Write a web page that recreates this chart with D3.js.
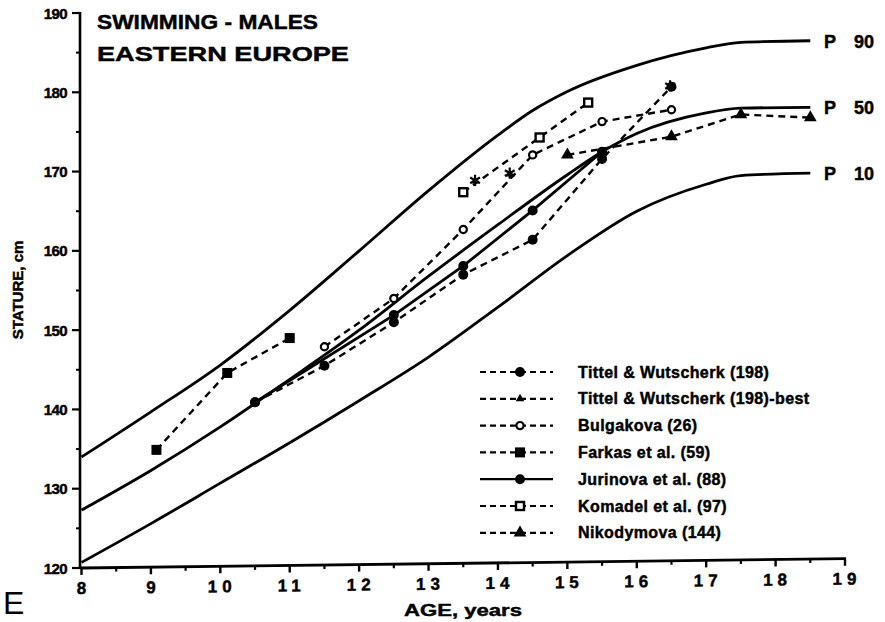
<!DOCTYPE html>
<html>
<head>
<meta charset="utf-8">
<script src="https://cdn.jsdelivr.net/npm/d3@7"></script>
<style>
  html, body { margin: 0; padding: 0; background: #fff; }
  svg { display: block; }
  text { font-family: "Liberation Sans", Arial, Helvetica, sans-serif; fill: #000; }
  text.heavy { font-weight: bold; stroke: #000; stroke-width: 0.45px; }
</style>
</head>
<body>
<svg id="chart" width="885" height="622"></svg>
<script>
// ---- axis ticks ----
const ageTicks = d3.range(8, 20);
const ageMinorTicks = d3.range(8.5, 19, 1);
const statureTicks = d3.range(120, 191, 10);
const statureMinorTicks = d3.range(125, 190, 10);

// ---- reference percentile curves [age, stature cm] ----
const p90 = [[8,134.0],[9,139.7],[10,145.6],[11,152.5],[12,160.0],[13,167.6],[14,174.6],[14.5,177.7],[15,180.1],[16,183.4],[17,185.6],[17.5,186.3],[18.5,186.5]];
const p50 = [[8,127.3],[9,132.3],[10,137.8],[11,143.8],[12,150.0],[13,156.8],[14,163.3],[15,169.6],[15.5,172.5],[16,174.8],[17,177.4],[17.5,178.0],[18.5,178.1]];
const p10 = [[8,120.7],[9,125.6],[10,130.7],[11,135.8],[12,141.1],[13,146.6],[14,152.9],[15,159.4],[16,165.0],[17,168.4],[17.5,169.5],[18.5,169.8]];
const percentileNames = ["90", "50", "10"];

// ---- swimmer samples [age, stature cm] ----
const tittel     = [[10.5,140.9],[11.5,145.5],[12.5,151.0],[13.5,157.0],[14.5,161.4],[15.5,171.6],[16.5,180.7]];
const tittelBest = [[13.67,168.9],[14.17,169.8],[16.48,180.8]];
const bulgakova  = [[11.5,147.9],[12.5,154.0],[13.5,162.7],[14.5,172.1],[15.5,176.3],[16.5,177.8]];
const farkas     = [[9.08,134.9],[10.1,144.6],[11.0,149.0]];
const jurinova   = [[10.5,140.9],[12.5,151.9],[13.5,158.1],[14.5,165.1],[15.5,172.5]];
const komadel    = [[13.5,167.4],[14.6,174.3],[15.3,178.7]];
const nikodymova = [[15.0,172.1],[16.5,174.4],[17.5,177.2],[18.5,176.8]];

const seriesNames = [
  "Tittel & Wutscherk (198)",
  "Tittel & Wutscherk (198)-best",
  "Bulgakova (26)",
  "Farkas et al. (59)",
  "Jurinova et al. (88)",
  "Komadel et al. (97)",
  "Nikodymova (144)"
];

const series = [
  { name: seriesNames[0], data: tittel,     marker: "dot",     dashed: true,  line: true },
  { name: seriesNames[1], data: tittelBest, marker: "best",    dashed: true,  line: false },
  { name: seriesNames[2], data: bulgakova,  marker: "ocircle", dashed: true,  line: true },
  { name: seriesNames[3], data: farkas,     marker: "square",  dashed: true,  line: true },
  { name: seriesNames[4], data: jurinova,   marker: "dot",     dashed: false, line: true },
  { name: seriesNames[5], data: komadel,    marker: "osquare", dashed: true,  line: true },
  { name: seriesNames[6], data: nikodymova, marker: "tri",     dashed: true,  line: true }
];

const svg = d3.select("#chart");

const x = d3.scaleLinear().domain([8, 19]).range([81.5, 845]);
const y = d3.scaleLinear().domain([120, 190]).range([568, 13]);

// ---- y axis ----
const yAxis = svg.append("g").attr("transform", "translate(80,0)");
yAxis.append("line")
  .attr("x1", 0).attr("x2", 0).attr("y1", y(190) - 1).attr("y2", y(120) + 1)
  .attr("stroke", "#000").attr("stroke-width", 2.6);
yAxis.selectAll(".maj").data(statureTicks).join("line")
  .attr("x1", -8).attr("x2", 0).attr("y1", d => y(d)).attr("y2", d => y(d))
  .attr("stroke", "#000").attr("stroke-width", 2.2);
yAxis.selectAll(".min").data(statureMinorTicks).join("line")
  .attr("x1", -4).attr("x2", 0).attr("y1", d => y(d)).attr("y2", d => y(d))
  .attr("stroke", "#000").attr("stroke-width", 2);
yAxis.selectAll("text").data(statureTicks).join("text")
  .attr("class", "heavy")
  .attr("x", -13).attr("y", d => y(d) + 5.5)
  .attr("text-anchor", "end")
  .attr("font-size", 15)
  .attr("letter-spacing", -0.6)
  .text(d => d);

// ---- x axis (slightly tilted baseline) ----
const xAxis = svg.append("g").attr("transform", "translate(0,569) skewY(-0.7)");
xAxis.append("line")
  .attr("x1", x(8) - 1).attr("x2", x(19) + 1).attr("y1", 0).attr("y2", 0)
  .attr("stroke", "#000").attr("stroke-width", 2.8);
xAxis.selectAll(".maj").data(ageTicks).join("line")
  .attr("x1", d => x(d)).attr("x2", d => x(d)).attr("y1", 0).attr("y2", 7)
  .attr("stroke", "#000").attr("stroke-width", 2.4);
xAxis.selectAll(".min").data(ageMinorTicks).join("line")
  .attr("x1", d => x(d)).attr("x2", d => x(d)).attr("y1", 0).attr("y2", 4)
  .attr("stroke", "#000").attr("stroke-width", 2.2);
xAxis.selectAll("text").data(ageTicks).join("text")
  .attr("class", "heavy")
  .attr("x", d => x(d) + (d >= 10 ? 2 : 0)).attr("y", 26)
  .attr("text-anchor", "middle")
  .attr("font-size", 17)
  .attr("letter-spacing", d => d >= 10 ? 5 : 0)
  .text(d => d);

svg.append("text")
  .attr("class", "heavy")
  .attr("x", 463).attr("y", 616)
  .attr("text-anchor", "middle")
  .attr("font-size", 17)
  .attr("textLength", 118).attr("lengthAdjust", "spacingAndGlyphs")
  .text("AGE,  years");

svg.append("text")
  .attr("class", "heavy")
  .attr("transform", "translate(23,290) rotate(-90)")
  .attr("text-anchor", "middle")
  .attr("font-size", 15)
  .text("STATURE,  cm");

// ---- title ----
svg.append("text")
  .attr("class", "heavy")
  .attr("x", 97).attr("y", 28.5)
  .attr("font-size", 21)
  .attr("textLength", 221).attr("lengthAdjust", "spacingAndGlyphs")
  .text("SWIMMING  -  MALES");
svg.append("text")
  .attr("class", "heavy")
  .attr("x", 97).attr("y", 60.5)
  .attr("font-size", 21)
  .attr("textLength", 252).attr("lengthAdjust", "spacingAndGlyphs")
  .text("EASTERN  EUROPE");

// panel letter
svg.append("text")
  .attr("x", 3).attr("y", 614)
  .attr("font-size", 32)
  .text("E");

// ---- percentile curves ----
const curveLine = d3.line().x(d => x(d[0])).y(d => y(d[1])).curve(d3.curveMonotoneX);
[p90, p50, p10].forEach((p, i) => {
  svg.append("path").attr("d", curveLine(p))
    .attr("fill", "none").attr("stroke", "#000").attr("stroke-width", 2.8)
    .attr("stroke-linejoin", "round");
  const last = p[p.length - 1];
  const t = svg.append("text")
    .attr("class", "heavy")
    .attr("x", 824).attr("y", y(last[1]) + 7)
    .attr("font-size", 18);
  t.append("tspan").text("P");
  t.append("tspan").attr("x", 854).text(percentileNames[i]);
});

// ---- sample series ----
const seg = d3.line().x(d => x(d[0])).y(d => y(d[1]));

function drawMarker(g, type, cx, cy) {
  if (type === "dot") {
    g.append("circle").attr("cx", cx).attr("cy", cy).attr("r", 5).attr("fill", "#000");
  } else if (type === "ocircle") {
    g.append("circle").attr("cx", cx).attr("cy", cy).attr("r", 3.6)
      .attr("fill", "#fff").attr("stroke", "#000").attr("stroke-width", 2.2);
  } else if (type === "square") {
    g.append("rect").attr("x", cx - 5).attr("y", cy - 5).attr("width", 10).attr("height", 10).attr("fill", "#000");
  } else if (type === "osquare") {
    g.append("rect").attr("x", cx - 4).attr("y", cy - 4).attr("width", 8).attr("height", 8)
      .attr("fill", "#fff").attr("stroke", "#000").attr("stroke-width", 2.4);
  } else if (type === "tri") {
    g.append("path").attr("d", d3.symbol(d3.symbolTriangle, 70)())
      .attr("transform", `translate(${cx},${cy})`).attr("fill", "#000");
  } else if (type === "smalltri") {
    g.append("path").attr("d", d3.symbol(d3.symbolTriangle, 32)())
      .attr("transform", `translate(${cx},${cy})`).attr("fill", "#000");
  } else if (type === "best") {
    g.append("path").attr("d", d3.symbol(d3.symbolTriangle, 28)())
      .attr("transform", `translate(${cx},${cy + 1})`).attr("fill", "#000");
    g.append("path").attr("d", d3.symbol(d3.symbolAsterisk, 90)())
      .attr("transform", `translate(${cx},${cy})`)
      .attr("fill", "none").attr("stroke", "#000").attr("stroke-width", 2.2);
  }
}

const dataLayer = svg.append("g");
series.forEach(s => {
  if (s.line) {
    dataLayer.append("path").attr("d", seg(s.data))
      .attr("fill", "none").attr("stroke", "#000")
      .attr("stroke-width", s.dashed ? 2.4 : 2.8)
      .attr("stroke-dasharray", s.dashed ? "7,5" : null);
  }
});
series.forEach(s => {
  s.data.forEach(d => drawMarker(dataLayer, s.marker, x(d[0]), y(d[1])));
});

// ---- legend ----
const legend = svg.append("g");
series.forEach((s, i) => {
  const cy = 372 + i * 26.8;
  legend.append("line")
    .attr("x1", 480).attr("x2", 553).attr("y1", cy).attr("y2", cy)
    .attr("stroke", "#000").attr("stroke-width", 2.2)
    .attr("stroke-dasharray", s.dashed ? "6,4" : null);
  drawMarker(legend, s.marker === "best" ? "smalltri" : s.marker, 520, cy);
  legend.append("text")
    .attr("class", "heavy")
    .attr("x", 578).attr("y", cy + 5.5)
    .attr("font-size", 16)
    .attr("letter-spacing", 0.4)
    .text(s.name);
});
</script>
</body>
</html>
